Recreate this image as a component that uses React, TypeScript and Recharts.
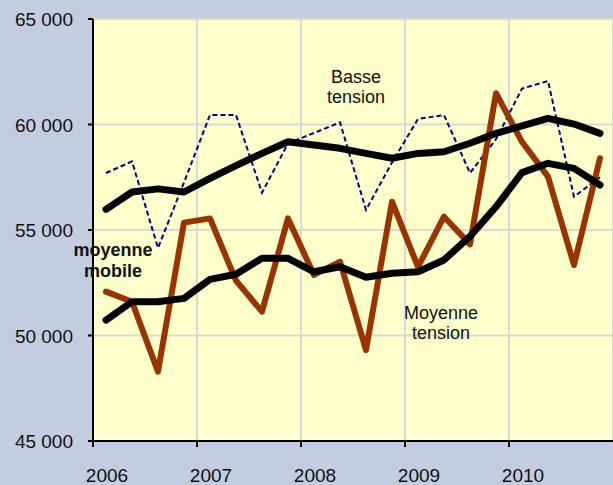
import React from 'react';
import { LineChart, Line, XAxis, YAxis, CartesianGrid } from 'recharts';

// quarter mid-points, 2006 T1 .. 2010 T4
const periods = [
  2006.125, 2006.375, 2006.625, 2006.875,
  2007.125, 2007.375, 2007.625, 2007.875,
  2008.125, 2008.375, 2008.625, 2008.875,
  2009.125, 2009.375, 2009.625, 2009.875,
  2010.125, 2010.375, 2010.625, 2010.875,
];

const basseTension = [
  57700, 58250, 54150, 57250, 60450, 60450, 56770, 59100,
  59600, 60100, 55950, 58200, 60260, 60450, 57700, 59300,
  61700, 62060, 56580, 57500,
];

const basseMobile = [
  55980, 56800, 56950, 56800, 57450, 58050, 58630, 59180,
  59030, 58870, 58630, 58400, 58630, 58710, 59110, 59580,
  59930, 60290, 60020, 59580,
];

const moyenneTension = [
  52080, 51600, 48290, 55350, 55550, 52600, 51130, 55550,
  52870, 53500, 49310, 56340, 53250, 55630, 54320, 61480,
  59180, 57530, 53340, 58400,
];

const moyenneMobile = [
  50730, 51600, 51600, 51760, 52660, 52900, 53660, 53660,
  53020, 53260, 52760, 52950, 53020, 53580, 54700, 56100,
  57720, 58160, 57920, 57130,
];

const yearTicks = [2006, 2007, 2008, 2009, 2010];
const valueTicks = [45000, 50000, 55000, 60000, 65000];

const data = periods.map((t, i) => ({
  t,
  bt: basseTension[i],
  btMobile: basseMobile[i],
  mt: moyenneTension[i],
  mtMobile: moyenneMobile[i],
}));

const FONT = '"Liberation Sans", Arial, sans-serif';

const YearTick = ({ x, payload }: any) => (
  <text x={x + 14} y={482} textAnchor="middle" fontFamily={FONT} fontSize={19} fill="#111">
    {payload.value}
  </text>
);

const ValueTick = ({ y, payload }: any) => (
  <text x={73} y={y + 7} textAnchor="end" fontFamily={FONT} fontSize={19} fill="#111">
    {`${Math.round(payload.value / 1000)} 000`}
  </text>
);

export default function App() {
  return (
    <div style={{ position: 'fixed', left: 0, top: 0, width: 613, height: 485, background: '#c3cde0', overflow: 'hidden' }}>
      <LineChart width={613} height={485} data={data} margin={{ top: 19, right: 0, bottom: 0, left: 0 }}>
        <CartesianGrid stroke="#d9d9d9" strokeWidth={2} fill="#ffffcc" fillOpacity={1} />
        <XAxis
          dataKey="t"
          type="number"
          domain={[2006, 2011]}
          ticks={yearTicks}
          height={44}
          axisLine={{ stroke: '#000', strokeWidth: 2 }}
          tickLine={{ stroke: '#000', strokeWidth: 2 }}
          tickSize={6}
          tick={<YearTick />}
        />
        <YAxis
          type="number"
          domain={[45000, 65000]}
          ticks={valueTicks}
          width={93}
          axisLine={{ stroke: '#000', strokeWidth: 2 }}
          tickLine={{ stroke: '#000', strokeWidth: 2 }}
          tickSize={5}
          tick={<ValueTick />}
        />
        <Line dataKey="bt" type="linear" stroke="#000080" strokeWidth={2} strokeDasharray="5 3" dot={false} isAnimationActive={false} />
        <Line dataKey="mt" type="linear" stroke="#993300" strokeWidth={6} strokeLinejoin="round" strokeLinecap="round" dot={false} isAnimationActive={false} />
        <Line dataKey="btMobile" type="linear" stroke="#000" strokeWidth={7} strokeLinejoin="round" strokeLinecap="round" dot={false} isAnimationActive={false} />
        <Line dataKey="mtMobile" type="linear" stroke="#000" strokeWidth={7} strokeLinejoin="round" strokeLinecap="round" dot={false} isAnimationActive={false} />
      </LineChart>
      <svg width={613} height={485} style={{ position: 'absolute', left: 0, top: 0, pointerEvents: 'none' }}>
        <g fontFamily={FONT} fontSize={18} fill="#111" textAnchor="middle">
          <text x={356} y={83}>Basse</text>
          <text x={356} y={103}>tension</text>
          <text x={441} y={319}>Moyenne</text>
          <text x={441} y={339}>tension</text>
          <text x={113} y={256} fontWeight="bold">moyenne</text>
          <text x={113} y={277} fontWeight="bold">mobile</text>
        </g>
      </svg>
    </div>
  );
}
